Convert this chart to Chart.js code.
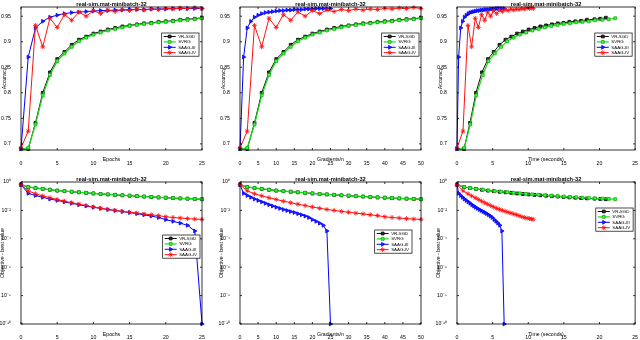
<!DOCTYPE html>
<html>
<head>
<meta charset="utf-8">
<script src="https://cdn.jsdelivr.net/npm/chart.js"></script>
<style>
body { margin: 0; background: #fff; width: 640px; height: 340px; position: relative; overflow: hidden; }
canvas { position: absolute; }
</style>
</head>
<body>
<canvas id="c0" width="213" height="170" style="left:0;top:0"></canvas>
<canvas id="c1" width="213" height="170" style="left:213px;top:0"></canvas>
<canvas id="c2" width="214" height="170" style="left:426px;top:0"></canvas>
<canvas id="c3" width="213" height="170" style="left:0;top:170px"></canvas>
<canvas id="c4" width="213" height="170" style="left:213px;top:170px"></canvas>
<canvas id="c5" width="214" height="170" style="left:426px;top:170px"></canvas>
<script>
// x values
const epochs = [0, 1, 2, 3, 4, 5, 6, 7, 8, 9, 10, 11, 12, 13, 14, 15, 16, 17, 18, 19, 20, 21, 22, 23, 24, 25];
const gradsTwoPass = [0, 2, 4, 6, 8, 10, 12, 14, 16, 18, 20, 22, 24, 26, 28, 30, 32, 34, 36, 38, 40, 42, 44, 46, 48, 50];
const timeVrsgd = [0, 0.98, 1.82, 2.66, 3.50, 4.34, 5.15, 5.97, 6.80, 7.62, 8.43, 9.25, 10.06, 10.88, 11.70, 12.50, 13.32, 14.14, 14.95, 15.77, 16.60, 17.42, 18.24, 19.30, 20.10, 20.90];
const timeSvrg = [0, 1.02, 1.86, 2.70, 3.62, 4.42, 5.30, 6.18, 7.06, 7.94, 8.82, 9.70, 10.58, 11.46, 12.34, 13.22, 14.10, 14.98, 15.86, 16.74, 17.62, 18.50, 19.38, 20.40, 21.30, 22.20];
const timeSaag3 = [0, 0.23, 0.52, 0.79, 1.04, 1.31, 1.58, 1.83, 2.10, 2.36, 2.61, 2.88, 3.14, 3.39, 3.66, 3.92, 4.17, 4.44, 4.70, 4.95, 5.22, 5.48, 5.74, 6.01, 6.30, 6.62];
const timeSaag4 = [0, 0.84, 1.54, 2.05, 2.56, 3.00, 3.45, 3.88, 4.30, 4.72, 5.14, 5.56, 5.97, 6.37, 6.77, 7.17, 7.56, 7.95, 8.33, 8.71, 9.09, 9.46, 9.83, 10.17, 10.48, 10.70];

// accuracy per epoch
const accVrsgd = [0.690, 0.690, 0.741, 0.800, 0.840, 0.866, 0.880, 0.894, 0.904, 0.910, 0.916, 0.920, 0.924, 0.927, 0.930, 0.932, 0.934, 0.936, 0.937, 0.939, 0.940, 0.941, 0.943, 0.944, 0.945, 0.947];
const accSvrg = [0.690, 0.692, 0.738, 0.795, 0.835, 0.862, 0.877, 0.890, 0.901, 0.908, 0.914, 0.918, 0.922, 0.925, 0.928, 0.931, 0.933, 0.935, 0.936, 0.938, 0.939, 0.940, 0.942, 0.943, 0.944, 0.946];
const accSaag3 = [0.690, 0.870, 0.927, 0.940, 0.948, 0.952, 0.955, 0.957, 0.958, 0.959, 0.960, 0.961, 0.961, 0.962, 0.962, 0.963, 0.963, 0.963, 0.964, 0.964, 0.964, 0.965, 0.965, 0.965, 0.965, 0.965];
const accSaag4 = [0.692, 0.725, 0.932, 0.890, 0.946, 0.928, 0.953, 0.942, 0.958, 0.950, 0.961, 0.955, 0.962, 0.959, 0.963, 0.961, 0.964, 0.962, 0.964, 0.963, 0.965, 0.964, 0.966, 0.965, 0.967, 0.965];

// objective - best value per epoch
const lossVrsgd = [0.646, 0.440, 0.375, 0.326, 0.284, 0.247, 0.226, 0.206, 0.188, 0.172, 0.156, 0.143, 0.133, 0.124, 0.115, 0.108, 0.100, 0.094, 0.088, 0.082, 0.078, 0.073, 0.070, 0.067, 0.064, 0.061];
const lossSvrg = [0.646, 0.447, 0.380, 0.331, 0.288, 0.251, 0.229, 0.209, 0.191, 0.174, 0.158, 0.145, 0.135, 0.126, 0.117, 0.110, 0.102, 0.0955, 0.0891, 0.0832, 0.0794, 0.0741, 0.0708, 0.0676, 0.0646, 0.0617];
const lossSaag3 = [0.646, 0.158, 0.112, 0.0832, 0.0631, 0.0501, 0.0398, 0.0316, 0.0251, 0.0204, 0.0166, 0.0138, 0.0115, 0.00977, 0.00832, 0.00708, 0.00589, 0.00490, 0.00398, 0.00316, 0.00224, 0.00170, 0.00126, 0.00089, 0.000355, 1e-10];
const lossSaag4 = [0.646, 0.240, 0.148, 0.105, 0.0776, 0.0589, 0.0447, 0.0347, 0.0275, 0.0219, 0.0174, 0.0141, 0.0117, 0.0100, 0.00851, 0.00741, 0.00646, 0.00562, 0.00490, 0.00427, 0.00355, 0.00316, 0.00288, 0.00263, 0.00245, 0.00234];

const accTicks = [0.7, 0.75, 0.8, 0.85, 0.9, 0.95];
const lossTicks = [1, 1e-2, 1e-4, 1e-6, 1e-8, 1e-10];
const lossTickLabels = ['10\u2070', '10\u207B\u00B2', '10\u207B\u2074', '10\u207B\u2076', '10\u207B\u2078', '10\u207B\u00B9\u2070'];
const seriesNames = ['VR-SGD', 'SVRG', 'SAAG-III', 'SAAG-IV'];
const plotTitle = 'real-sim.mat-minibatch-32';

const FONT = '"Liberation Sans", Arial, sans-serif';

const styles = [
    { line: '#111', fill: '#333', edge: '#000', point: 'rect', r: 2, width: 1 },
    { line: '#18d818', fill: '#3cff3c', edge: '#10b010', point: 'rect', r: 2, width: 1.2 },
    { line: '#0000ff', fill: '#2020ff', edge: '#0000ff', point: 'triangle', rot: 90, r: 2.2, width: 1 },
    { line: '#ff1010', fill: '#ff1010', edge: '#ff1010', point: 'star', r: 2.4, width: 1 }
];

const pts = (xs, ys) => xs.map((x, i) => ({ x: x, y: ys[i] }));

const panels = [
    { xLabel: 'Epochs', xMax: 25, xs: [epochs, epochs, epochs, epochs], ys: [accVrsgd, accSvrg, accSaag3, accSaag4], log: false, legend: { right: 3, top: 26 } },
    { xLabel: 'Gradients/n', xMax: 50, xs: [gradsTwoPass, gradsTwoPass, epochs, gradsTwoPass], ys: [accVrsgd, accSvrg, accSaag3, accSaag4], log: false, legend: { right: 2, top: 26 } },
    { xLabel: 'Time (seconds)', xMax: 25, xs: [timeVrsgd, timeSvrg, timeSaag3, timeSaag4], ys: [accVrsgd, accSvrg, accSaag3, accSaag4], log: false, legend: { right: 3, top: 26 } },
    { xLabel: 'Epochs', xMax: 25, xs: [epochs, epochs, epochs, epochs], ys: [lossVrsgd, lossSvrg, lossSaag3, lossSaag4], log: true, legend: { right: 2, top: 53 } },
    { xLabel: 'Gradients/n', xMax: 50, xs: [gradsTwoPass, gradsTwoPass, epochs, gradsTwoPass], ys: [lossVrsgd, lossSvrg, lossSaag3, lossSaag4], log: true, legend: { right: 9, top: 48 } },
    { xLabel: 'Time (seconds)', xMax: 25, xs: [timeVrsgd, timeSvrg, timeSaag3, timeSaag4], ys: [lossVrsgd, lossSvrg, lossSaag3, lossSaag4], log: true, legend: { right: 2, top: 26 } }
];

const yWidths = [21, 27, 31];
const padRights = [11, 5, 4];
const padTops = [7, 12];
const xHeights = [20, 16];

// simple marker drawing for legend samples
function marker(ctx, st, x, y) {
    ctx.fillStyle = st.fill;
    ctx.strokeStyle = st.edge;
    ctx.lineWidth = 0.8;
    const r = st.r;
    ctx.beginPath();
    if (st.point === 'rect') {
        const s = r / Math.SQRT2;
        ctx.rect(x - s, y - s, 2 * s, 2 * s);
        ctx.fill(); ctx.stroke();
    } else if (st.point === 'triangle') {
        ctx.moveTo(x + r, y);
        ctx.lineTo(x - r * 0.5, y - r * 0.87);
        ctx.lineTo(x - r * 0.5, y + r * 0.87);
        ctx.closePath();
        ctx.fill(); ctx.stroke();
    } else {
        for (let k = 0; k < 4; k++) {
            const a = k * Math.PI / 4;
            ctx.moveTo(x - Math.cos(a) * r, y - Math.sin(a) * r);
            ctx.lineTo(x + Math.cos(a) * r, y + Math.sin(a) * r);
        }
        ctx.stroke();
    }
}

const boxPlugin = {
    id: 'box',
    afterDraw(chart, args, opts) {
        const { ctx, chartArea: a, scales } = chart;
        ctx.save();
        ctx.strokeStyle = '#000';
        ctx.lineWidth = 0.8;
        ctx.strokeRect(a.left, a.top, a.right - a.left, a.bottom - a.top);

        // inward tick marks
        ctx.beginPath();
        scales.x.ticks.forEach(t => {
            const px = scales.x.getPixelForValue(t.value);
            ctx.moveTo(px, a.bottom); ctx.lineTo(px, a.bottom - 2);
            ctx.moveTo(px, a.top); ctx.lineTo(px, a.top + 2);
        });
        scales.y.ticks.forEach(t => {
            const py = scales.y.getPixelForValue(t.value);
            ctx.moveTo(a.left, py); ctx.lineTo(a.left + 2, py);
            ctx.moveTo(a.right, py); ctx.lineTo(a.right - 2, py);
        });
        ctx.stroke();

        // title and axis labels
        ctx.fillStyle = '#000';
        ctx.textAlign = 'center';
        ctx.textBaseline = 'alphabetic';
        ctx.font = 'bold 5.7px ' + FONT;
        ctx.fillText(plotTitle, (a.left + a.right) / 2, a.top - 1.5);
        ctx.textBaseline = 'middle';
        ctx.font = '5.2px ' + FONT;
        ctx.fillText(opts.xLabel, (a.left + a.right) / 2, a.bottom + opts.xTitleGap);
        ctx.save();
        ctx.translate(a.left - opts.yTitleGap, (a.top + a.bottom) / 2);
        ctx.rotate(-Math.PI / 2);
        ctx.fillText(opts.yLabel, 0, 0);
        ctx.restore();

        // legend box
        ctx.font = '4.4px ' + FONT;
        const textW = Math.max(...seriesNames.map(n => ctx.measureText(n).width));
        const sample = 12, rowH = 5.4;
        const boxW = 2 + sample + 2.5 + textW + 3;
        const boxH = rowH * 4 + 1.6;
        const x0 = a.right - opts.legend.right - boxW;
        const y0 = a.top + opts.legend.top;
        ctx.fillStyle = '#fff';
        ctx.fillRect(x0, y0, boxW, boxH);
        ctx.lineWidth = 0.7;
        ctx.strokeStyle = '#000';
        ctx.strokeRect(x0, y0, boxW, boxH);
        seriesNames.forEach((name, k) => {
            const st = styles[k];
            const cy = y0 + 0.8 + rowH * (k + 0.5);
            ctx.strokeStyle = st.line;
            ctx.lineWidth = st.width;
            ctx.beginPath();
            ctx.moveTo(x0 + 2, cy); ctx.lineTo(x0 + 2 + sample, cy);
            ctx.stroke();
            marker(ctx, st, x0 + 2 + sample / 2, cy);
            ctx.fillStyle = '#000';
            ctx.textAlign = 'left';
            ctx.fillText(name, x0 + 2 + sample + 2.5, cy + 0.3);
        });
        ctx.restore();
    }
};

panels.forEach((p, i) => {
    const col = i % 3, row = Math.floor(i / 3);
    const tickFont = { family: FONT, size: 5.2 };
    const yScale = p.log ? {
        type: 'logarithmic', min: 1e-10, max: 1,
        afterBuildTicks: s => { s.ticks = lossTicks.map(v => ({ value: v })); },
        ticks: { font: tickFont, color: '#000', padding: 2, callback: v => lossTickLabels[Math.round(-Math.log10(v) / 2)] }
    } : {
        type: 'linear', min: 0.688, max: 0.968,
        afterBuildTicks: s => { s.ticks = accTicks.map(v => ({ value: v })); },
        ticks: { font: tickFont, color: '#000', padding: 2, callback: v => String(v) }
    };
    yScale.grid = { display: false };
    yScale.border = { display: false };
    yScale.afterFit = s => { s.width = yWidths[col]; };

    new Chart(document.getElementById('c' + i), {
        type: 'scatter',
        data: {
            datasets: styles.map((st, k) => ({
                label: seriesNames[k],
                data: pts(p.xs[k], p.ys[k]),
                showLine: true,
                borderColor: st.line,
                borderWidth: st.width,
                backgroundColor: st.fill,
                pointStyle: st.point,
                pointRotation: st.rot || 0,
                pointRadius: st.r,
                pointBackgroundColor: st.fill,
                pointBorderColor: st.edge,
                pointBorderWidth: 0.8,
                order: 4 - k,
                clip: 4
            }))
        },
        options: {
            responsive: false,
            animation: false,
            events: [],
            layout: { padding: { top: padTops[row], right: padRights[col], left: 0, bottom: 0 } },
            plugins: {
                legend: { display: false },
                tooltip: { enabled: false },
                box: {
                    xLabel: p.xLabel,
                    yLabel: p.log ? 'Objective - best value' : 'Accuracy',
                    xTitleGap: row === 0 ? 10 : 11,
                    yTitleGap: row === 0 ? 16.5 : 18.5,
                    legend: p.legend
                }
            },
            scales: {
                x: {
                    type: 'linear', min: 0, max: p.xMax,
                    ticks: { stepSize: 5, font: tickFont, color: '#000', padding: 2, maxRotation: 0 },
                    grid: { display: false },
                    border: { display: false },
                    afterFit: s => { s.height = xHeights[row]; }
                },
                y: yScale
            }
        },
        plugins: [boxPlugin]
    });
});
</script>
</body>
</html>
